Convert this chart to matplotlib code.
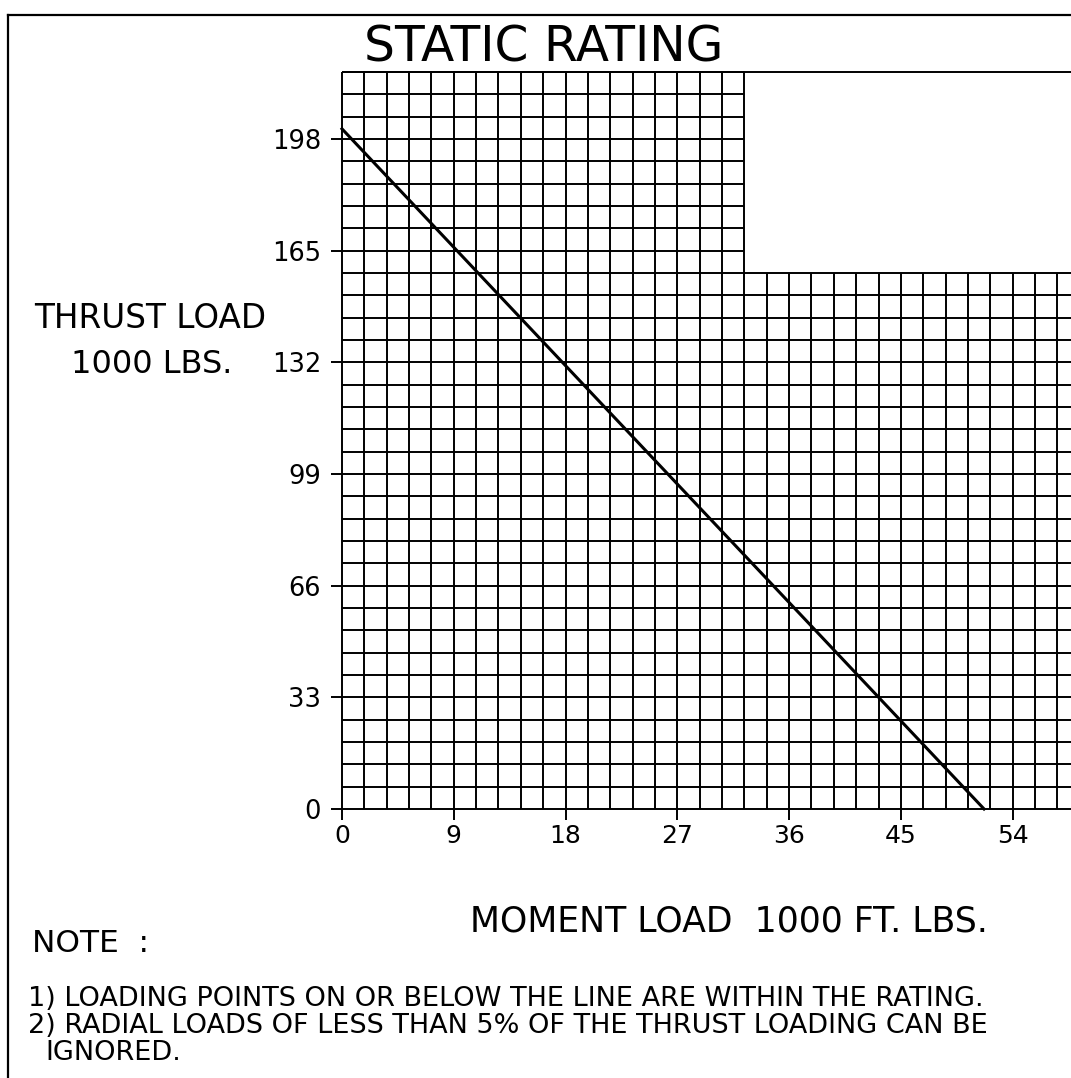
import matplotlib
matplotlib.use("Agg")
import matplotlib.pyplot as plt
import numpy as np

# axis ticks (1000 ft.lbs / 1000 lbs)
moment_ticks = [0, 9, 18, 27, 36, 45, 54]
thrust_ticks = [0, 33, 66, 99, 132, 165, 198]

# static rating line
moment = [0, 51.7]
thrust = [201, 0]

# chart outline: upper block and lower block of the grid
x_step, y_step = 1.8, 6.6
upper_x, upper_y = 32.4, 217.8
lower_y = 158.4
x_max = 58.7

W, H = 1071, 1078
fig = plt.figure(figsize=(W / 100, H / 100), dpi=100)
plt.rcParams['font.family'] = 'DejaVu Sans'

ax = fig.add_axes([342 / W, (H - 809) / H, (W - 342) / W, (809 - 72) / H])
ax.set_xlim(0, x_max)
ax.set_ylim(0, upper_y)
for s in ax.spines.values():
    s.set_visible(False)

gx = np.arange(0, 60, x_step)
gy = np.arange(0, upper_y + 0.01, y_step)
lw = 1.4
ax.vlines(gx[gx <= upper_x + 0.01], 0, upper_y, color='black', lw=lw, clip_on=False)
ax.vlines(gx[gx > upper_x + 0.01], 0, lower_y, color='black', lw=lw, clip_on=False)
ax.hlines(gy[gy <= lower_y + 0.01], 0, 62, color='black', lw=lw, clip_on=False)
ax.hlines(gy[gy > lower_y + 0.01], 0, upper_x, color='black', lw=lw, clip_on=False)
ax.hlines(upper_y, 0, 62, color='black', lw=lw, clip_on=False)

ax.plot(moment, thrust, color='black', lw=2.2, clip_on=False)

ax.set_xticks(moment_ticks)
ax.set_yticks(thrust_ticks)
ax.tick_params(axis='both', direction='out', length=8, width=lw, color='black')
ax.tick_params(axis='x', labelsize=18, pad=3)
ax.tick_params(axis='y', labelsize=18.5, pad=7)

# frame
fig.add_artist(plt.Line2D([8 / W, 1], [1 - 15 / H, 1 - 15 / H], color='black', lw=1.6))
fig.add_artist(plt.Line2D([8 / W, 8 / W], [0, 1 - 15 / H], color='black', lw=1.6))

def put(x, y, s, size, ha='left'):
    fig.text(x / W, 1 - y / H, s, fontsize=size, ha=ha, va='baseline')

put(544, 61, "STATIC RATING", 35, ha='center')
put(150, 328, "THRUST LOAD", 23.5, ha='center')
put(152, 373, "1000 LBS.", 23, ha='center')
put(470, 932, "MOMENT LOAD  1000 FT. LBS.", 25)
put(32, 952, "NOTE  :", 22.5)
put(28, 1006, "1) LOADING POINTS ON OR BELOW THE LINE ARE WITHIN THE RATING.", 19.5)
put(28, 1033, "2) RADIAL LOADS OF LESS THAN 5% OF THE THRUST LOADING CAN BE", 19.5)
put(45, 1060, "IGNORED.", 19.5)

fig.savefig("out.png", dpi=100)
